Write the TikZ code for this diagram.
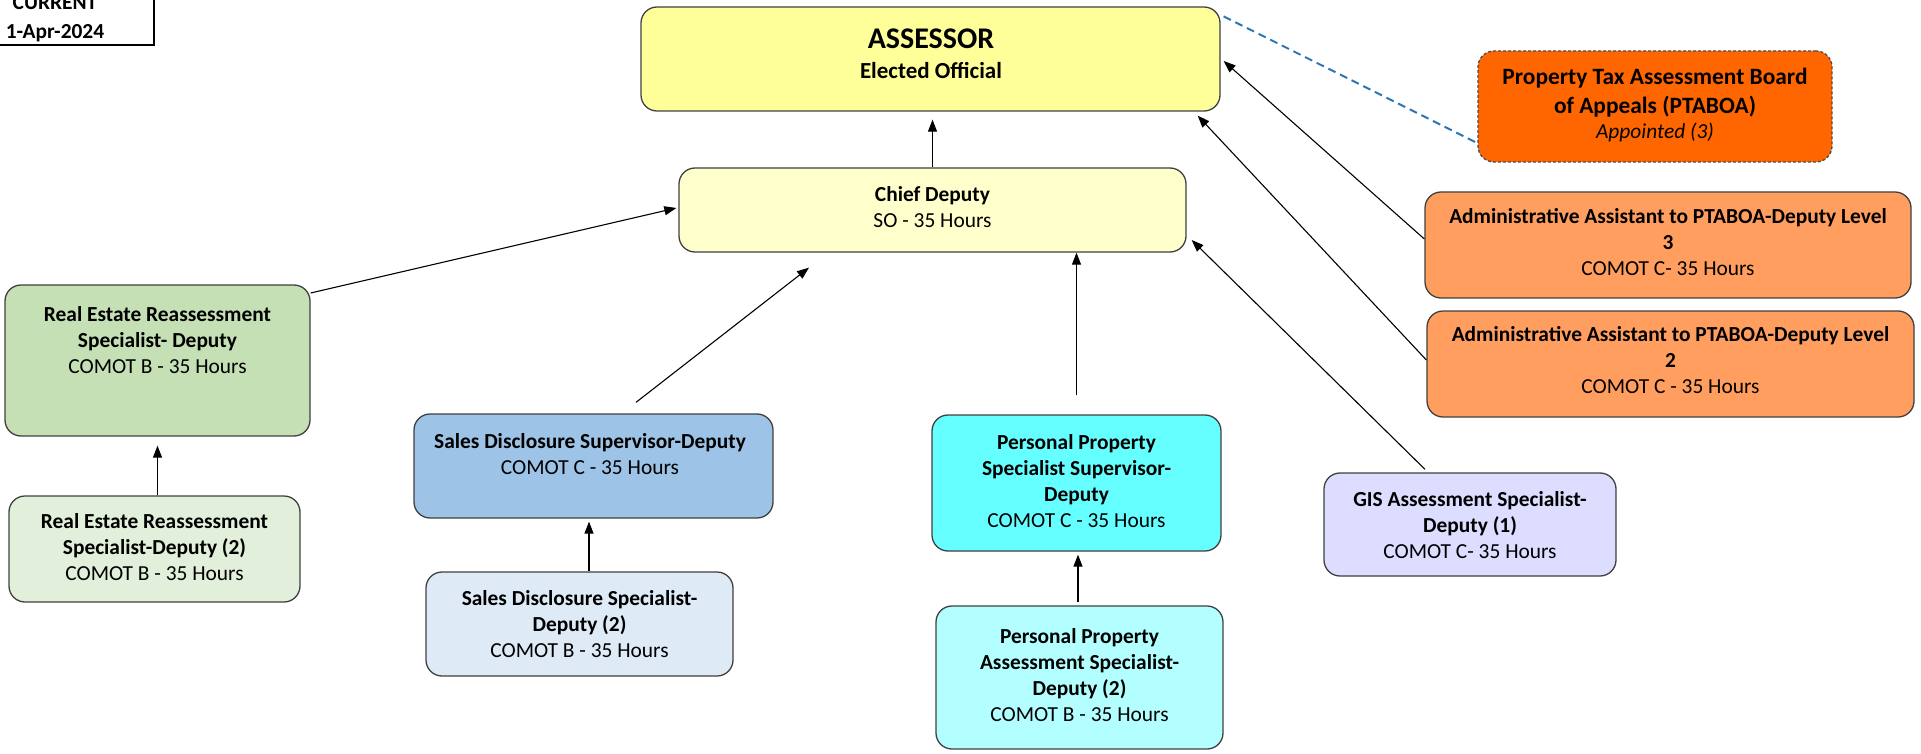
\documentclass[tikz,border=0pt]{standalone}
\usepackage{fontspec}
\setmainfont{Carlito}
\usetikzlibrary{arrows.meta}
\definecolor{cAss}{HTML}{FFFF99}
\definecolor{cChief}{HTML}{FFFFCC}
\definecolor{cPtaboa}{HTML}{FF6600}
\definecolor{cAdmin}{HTML}{FF9E5E}
\definecolor{cRe}{HTML}{C5E0B4}
\definecolor{cReTwo}{HTML}{E2EFDA}
\definecolor{cSs}{HTML}{9DC3E6}
\definecolor{cSsTwo}{HTML}{DEEBF7}
\definecolor{cPps}{HTML}{66FFFF}
\definecolor{cPpTwo}{HTML}{B3FFFF}
\definecolor{cGis}{HTML}{DDDDFF}
\definecolor{cDash}{HTML}{2E75B6}
\tikzset{
  box/.style={draw=black!75, line width=0.65pt, rounded corners=8pt, inner sep=0pt},
  txt/.style={align=center, font=\fontsize{10.7}{13}\selectfont, inner sep=0pt},
  con/.style={line width=0.55pt, -{Triangle[length=6pt,width=4.5pt]}},
}
\begin{document}
\begin{tikzpicture}[x=0.5pt,y=-0.5pt]
\useasboundingbox (0,0) rectangle (1921,754);
% date box
\node[draw, line width=1pt, minimum width=92pt, minimum height=32.5pt, inner sep=0pt] (cur) at (62,12.5) {};
\node[txt, font=\fontsize{10.7}{14.5}\selectfont\bfseries] (curtxt) at (55,18.5) {CURRENT\\1-Apr-2024};
% boxes
\node[box, fill=cAss, minimum width=289.5pt, minimum height=52pt] (assessor) at (930.5,59) {};
\node[box, fill=cChief, minimum width=253.5pt, minimum height=42pt] (chief) at (932.5,210) {};
\node[box, fill=cPtaboa, draw=black!70, dash pattern=on 1.5pt off 1pt, minimum width=177pt, minimum height=55.5pt] (ptaboa) at (1655,106.5) {};
\node[box, fill=cAdmin, minimum width=243pt, minimum height=53pt] (al3) at (1668,245) {};
\node[box, fill=cAdmin, minimum width=243.5pt, minimum height=53pt] (al2) at (1670.5,364) {};
\node[box, fill=cRe, minimum width=152.5pt, minimum height=75.5pt] (re) at (157.5,360.5) {};
\node[box, fill=cReTwo, minimum width=145.5pt, minimum height=53pt] (re2) at (154.5,549) {};
\node[box, fill=cSs, minimum width=179.5pt, minimum height=52pt] (ss) at (593.5,466) {};
\node[box, fill=cSsTwo, minimum width=153.5pt, minimum height=52pt] (ss2) at (579.5,624) {};
\node[box, fill=cPps, minimum width=144.5pt, minimum height=68pt] (pps) at (1076.5,483) {};
\node[box, fill=cPpTwo, minimum width=143.5pt, minimum height=71.5pt] (pp2) at (1079.5,677.5) {};
\node[box, fill=cGis, minimum width=146pt, minimum height=51.5pt] (gis) at (1470,524.5) {};
% texts
\node[txt, font=\fontsize{15}{18}\selectfont\bfseries] (asst1) at (931,39) {ASSESSOR};
\node[txt, font=\fontsize{11.5}{14}\selectfont\bfseries] (asst2) at (931,71) {Elected Official};
\node[txt] (chieft) at (932.5,207.5) {\textbf{Chief Deputy}\\SO - 35 Hours};
\node[txt, font=\fontsize{11.7}{14.8}\selectfont] (ptaboat) at (1655,105) {\textbf{Property Tax Assessment Board}\\\textbf{of Appeals (PTABOA)}\\[-2.5pt]{\fontsize{10.7}{13}\selectfont\itshape Appointed (3)}};
\node[txt] (al3t) at (1668,242.5) {\textbf{Administrative Assistant to PTABOA-Deputy Level}\\\textbf{3}\\COMOT C- 35 Hours};
\node[txt] (al2t) at (1670.5,360.5) {\textbf{Administrative Assistant to PTABOA-Deputy Level}\\\textbf{2}\\COMOT C - 35 Hours};
\node[txt] (ret) at (157.5,340) {\textbf{Real Estate Reassessment}\\\textbf{Specialist- Deputy}\\COMOT B - 35 Hours};
\node[txt] (re2t) at (154.5,547.5) {\textbf{Real Estate Reassessment}\\\textbf{Specialist-Deputy (2)}\\COMOT B - 35 Hours};
\node[txt] (sst) at (590,454) {\textbf{Sales Disclosure Supervisor-Deputy}\\COMOT C - 35 Hours};
\node[txt] (ss2t) at (579.5,624) {\textbf{Sales Disclosure Specialist-}\\\textbf{Deputy (2)}\\COMOT B - 35 Hours};
\node[txt] (ppst) at (1076.5,481) {\textbf{Personal Property}\\\textbf{Specialist Supervisor-}\\\textbf{Deputy}\\COMOT C - 35 Hours};
\node[txt] (pp2t) at (1079.5,675) {\textbf{Personal Property}\\\textbf{Assessment Specialist-}\\\textbf{Deputy (2)}\\COMOT B - 35 Hours};
\node[txt] (gist) at (1470,525) {\textbf{GIS Assessment Specialist-}\\\textbf{Deputy (1)}\\COMOT C- 35 Hours};
% connectors
\draw[con, shorten >=4pt] (chief.north) -- (chief.north |- assessor.south);
\draw[con, shorten >=4.5pt] (re.south |- re2.north) -- (re.south);
\draw[con] ([xshift=4.75pt]ss2.north) -- ([xshift=-2.25pt,yshift=-1.5pt]ss.south);
\draw[con] ([xshift=-0.75pt,yshift=1.5pt]pp2.north) -- ([xshift=0.75pt,yshift=-1.5pt]pps.south);
\draw[con] ([yshift=9.5pt]pps.north) -- (pps.north |- chief.south);
\draw[con] ([xshift=21.25pt,yshift=5.5pt]ss.north) -- ([xshift=-61.75pt,yshift=-7.5pt]chief.south);
\draw[con] ([xshift=-22.5pt,yshift=1.5pt]gis.north) -- ([xshift=2.5pt,yshift=-15pt]chief.east);
\draw[con] ([yshift=3pt]al3.west) -- ([xshift=1.5pt,yshift=-1pt]assessor.east);
\draw[con] ([yshift=2pt]al2.west) -- ([xshift=-11.5pt,yshift=-2pt]assessor.south east);
\draw[con] ([yshift=33.75pt]re.east) -- ([xshift=-1pt,yshift=1pt]chief.west);
\draw[cDash, line width=1pt, dash pattern=on 4pt off 2.5pt] ([xshift=1.5pt,yshift=-5pt]assessor.north east) -- ([xshift=0.5pt,yshift=9.5pt]ptaboa.south west);
\end{tikzpicture}
\end{document}
